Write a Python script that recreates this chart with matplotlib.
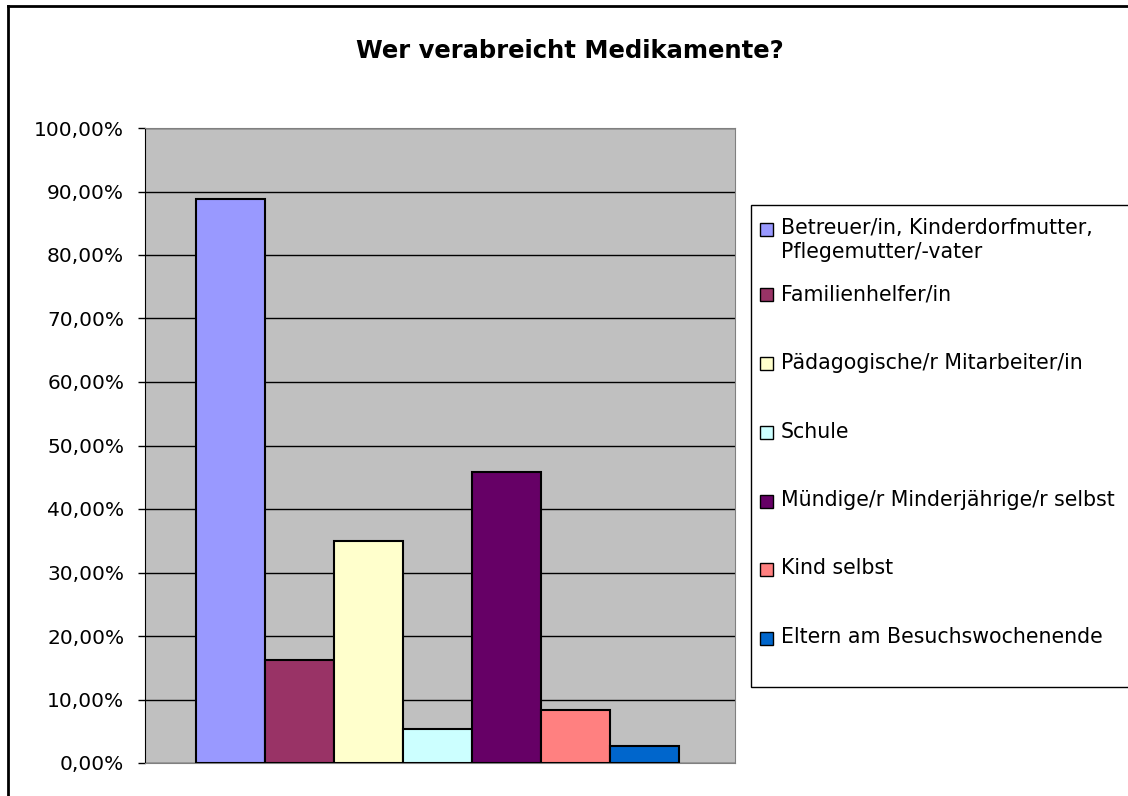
"""Bar chart: Wer verabreicht Medikamente?"""

import matplotlib

matplotlib.use("Agg")

import matplotlib.pyplot as plt
from matplotlib.lines import Line2D
from matplotlib.patches import Rectangle
import numpy as np

TITLE = "Wer verabreicht Medikamente?"

CATEGORIES = [
    "Betreuer/in, Kinderdorfmutter,\nPflegemutter/-vater",
    "Familienhelfer/in",
    "Pädagogische/r Mitarbeiter/in",
    "Schule",
    "Mündige/r Minderjährige/r selbst",
    "Kind selbst",
    "Eltern am Besuchswochenende",
]
VALUES = [88.8, 16.2, 34.9, 5.3, 45.8, 8.3, 2.7]
COLORS = ["#9999FF", "#993366", "#FFFFCC", "#CCFFFF", "#660066", "#FF8080", "#0066CC"]
Y_TICKS = np.arange(0, 101, 10)

W, H = 1128, 796


def fx(px):
    return px / W


def fy(py):
    return 1 - py / H


def main():
    plt.rcParams["font.family"] = ["DejaVu Sans"]
    fig = plt.figure(figsize=(W / 100, H / 100), dpi=100)

    # outer chart frame (only top and left visible)
    fig.add_artist(Line2D([fx(8), fx(8)], [fy(6), 0], transform=fig.transFigure,
                          color="black", lw=2))
    fig.add_artist(Line2D([fx(8), 1], [fy(6), fy(6)], transform=fig.transFigure,
                          color="black", lw=2))

    ax = fig.add_axes([fx(145), fy(763), fx(735) - fx(145), fy(128) - fy(763)])
    ax.set_facecolor("#C0C0C0")

    x = np.arange(len(VALUES))
    ax.bar(x, VALUES, width=1.0, color=COLORS, edgecolor="black", linewidth=1.5,
           zorder=3)

    ax.set_xlim(-1.24, 7.31)
    ax.set_ylim(0, 100)
    ax.set_yticks(Y_TICKS)
    ax.set_yticklabels([f"{v:.2f}%".replace(".", ",") for v in Y_TICKS])
    ax.set_xticks([])
    ax.yaxis.grid(True, color="black", linewidth=1.0, zorder=1)
    ax.tick_params(axis="y", length=5, width=1, pad=10, labelsize=14.5)

    for side in ["top", "right", "bottom"]:
        ax.spines[side].set_color("#808080")
    ax.spines["left"].set_color("black")

    fig.text(fx(570), fy(51), TITLE, ha="center", va="center",
             fontsize=17.5, fontweight="bold")

    # legend drawn by hand to match the Excel layout
    fig.add_artist(Rectangle((fx(751), fy(687)), fx(1135) - fx(751),
                             fy(205) - fy(687), transform=fig.transFigure,
                             facecolor="white", edgecolor="black", lw=1))
    line_y = [229, 295, 364, 433, 501, 569, 638]
    for label, color, ly in zip(CATEGORIES, COLORS, line_y):
        fig.add_artist(Rectangle((fx(760), fy(ly + 6.5)), fx(13), 13 / H,
                                 transform=fig.transFigure, facecolor=color,
                                 edgecolor="black", lw=1))
        fig.text(fx(781), fy(ly - 11), label, ha="left", va="top",
                 fontsize=14.8, linespacing=1.25)

    fig.savefig("out.png", dpi=100)
    plt.close(fig)


if __name__ == "__main__":
    main()
